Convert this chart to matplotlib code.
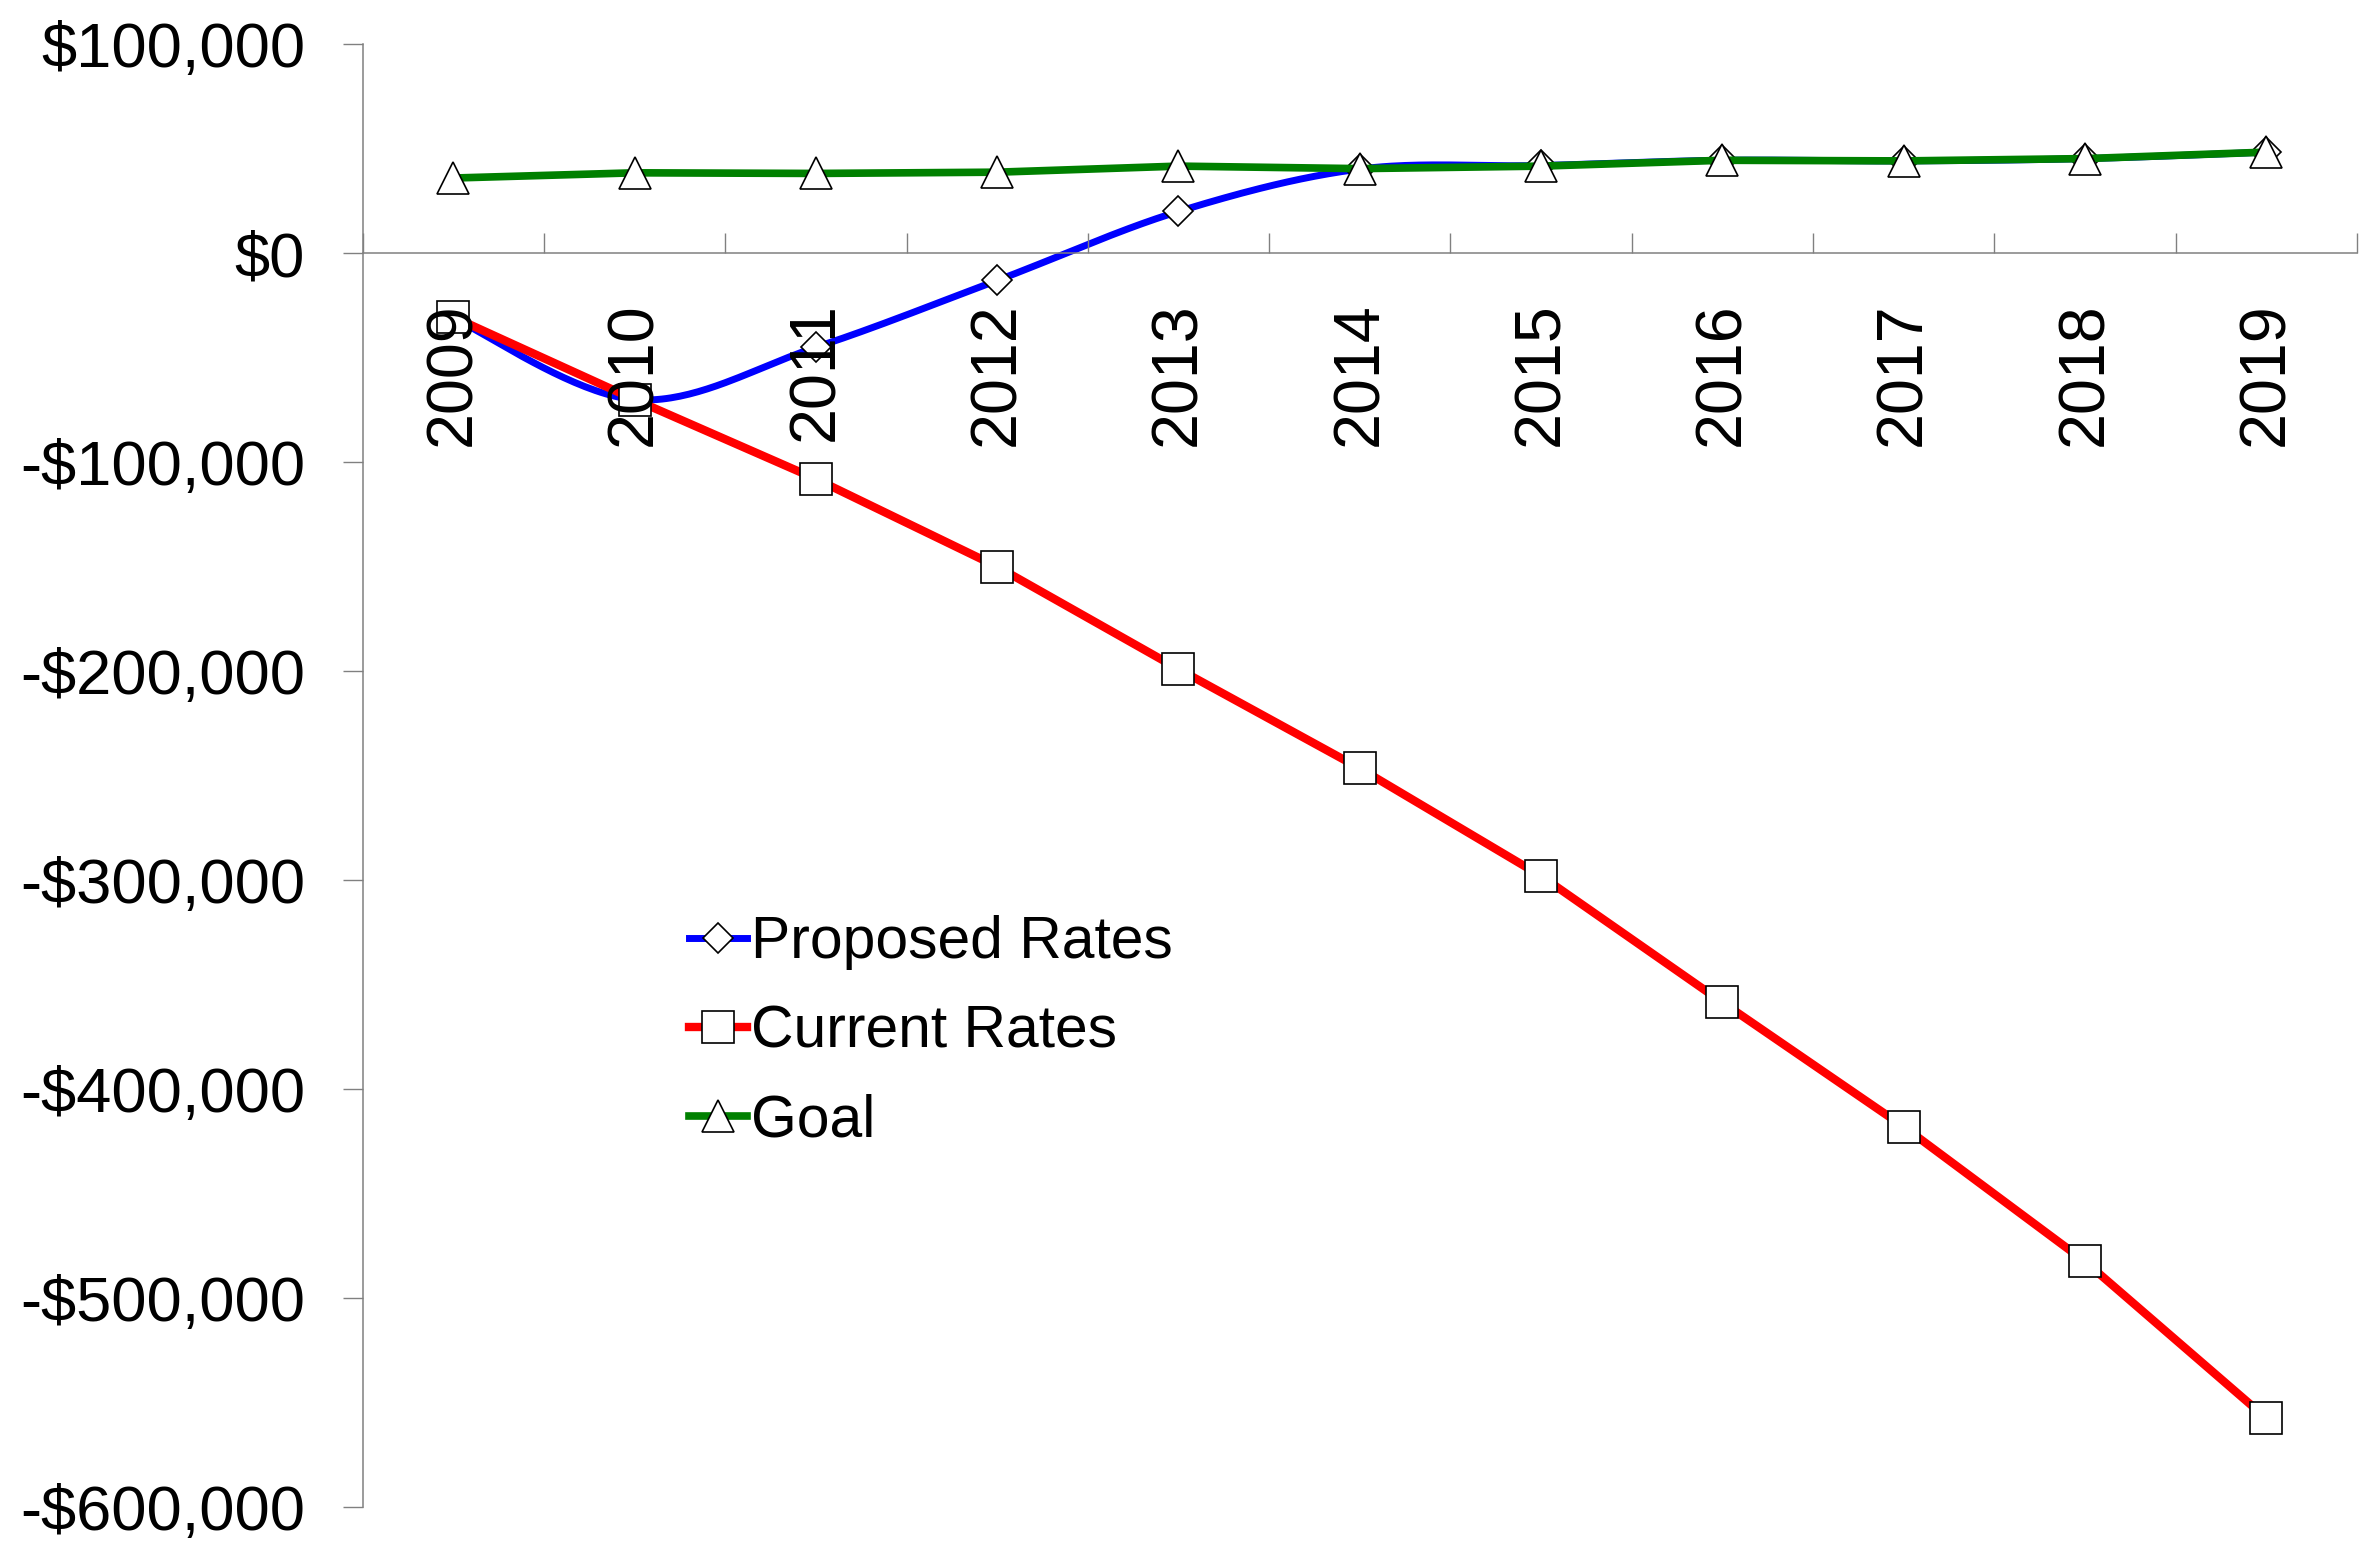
import numpy as np
import matplotlib
matplotlib.use("Agg")
import matplotlib.pyplot as plt
from matplotlib.lines import Line2D
from matplotlib.ticker import FuncFormatter, FixedLocator

plt.rcParams['font.family'] = ['Liberation Sans', 'DejaVu Sans']

years = ['2009', '2010', '2011', '2012', '2013', '2014',
         '2015', '2016', '2017', '2018', '2019']
proposed_rates = [-31000, -70000, -45000, -13000, 20000, 40300,
                  42000, 44500, 44200, 45300, 48400]
current_rates = [-30500, -70000, -108000, -150000, -199000, -246500,
                 -298000, -358500, -418000, -482500, -557500]
goal = [36000, 38500, 38200, 38800, 41700, 40500,
        41700, 44500, 44200, 45300, 48400]
series_labels = ['Proposed Rates', 'Current Rates', 'Goal']
y_ticks = [-600000, -500000, -400000, -300000, -200000, -100000, 0, 100000]


def smooth_curve(xs, ys, steps=40):
    """Cubic Bezier smoothing through every point (Catmull-Rom tangents)."""
    pts = np.column_stack([xs, ys]).astype(float)
    n = len(pts)
    out = []
    for i in range(n - 1):
        p0 = pts[i - 1] if i > 0 else pts[i]
        p1 = pts[i]
        p2 = pts[i + 1]
        p3 = pts[i + 2] if i + 2 < n else pts[i + 1]
        c1 = p1 + (p2 - p0) / 6.0
        c2 = p2 - (p3 - p1) / 6.0
        t = np.linspace(0, 1, steps, endpoint=(i == n - 2))[:, None]
        seg = ((1 - t) ** 3) * p1 + 3 * ((1 - t) ** 2) * t * c1 \
            + 3 * (1 - t) * (t ** 2) * c2 + (t ** 3) * p2
        out.append(seg)
    out = np.vstack(out)
    return out[:, 0], out[:, 1]


W, H = 2359, 1549
fig = plt.figure(figsize=(W / 100, H / 100), dpi=100)
left, right, top, bottom = 362.6, 2357.0, 44.3, 1507.0
ax = fig.add_axes([left / W, 1 - bottom / H, (right - left) / W, (bottom - top) / H])

x = np.arange(len(years))
blue, red, green = '#0000FF', '#FF0000', '#008000'
lw_blue, lw_red, lw_green = 5.0, 6.0, 5.5
mk = dict(markerfacecolor='white', markeredgecolor='black', markeredgewidth=1.2)
FS = 45.5
FS_LEGEND = 42.3

# Proposed rates: smoothed line with diamond markers
sx, sy = smooth_curve(x, proposed_rates)
ax.plot(sx, sy, color=blue, lw=lw_blue, solid_capstyle='butt', zorder=2)
ax.plot(x, proposed_rates, ls='none', marker='D', markersize=15, zorder=2.1, **mk)

# Current rates: straight line with square markers
ax.plot(x, current_rates, color=red, lw=lw_red, zorder=2.2)
ax.plot(x, current_rates, ls='none', marker='s', markersize=23, zorder=2.3, **mk)

# Goal: straight line with triangle markers
ax.plot(x, goal, color=green, lw=lw_green, zorder=2.4)
ax.plot(x, goal, ls='none', marker='^', markersize=23, zorder=2.5, **mk)

ax.set_xlim(-0.5, len(years) - 0.5)
ax.set_ylim(-600000, 100000)

axis_gray = '#808080'
for side in ('top', 'right'):
    ax.spines[side].set_visible(False)
ax.spines['bottom'].set_position(('data', 0))
for side in ('left', 'bottom'):
    ax.spines[side].set_color(axis_gray)
    ax.spines[side].set_linewidth(1.1)

# Y axis
ax.yaxis.set_major_locator(FixedLocator(y_ticks))


def money(v, pos):
    v = int(round(v))
    return f"-${abs(v):,}" if v < 0 else f"${v:,}"


ax.yaxis.set_major_formatter(FuncFormatter(money))
ax.tick_params(axis='y', which='major', direction='out', length=14.4, width=1.0,
               color=axis_gray, pad=27, labelsize=FS)

# X axis: labels at category centres, tick marks at category boundaries
ax.set_xticks(x)
ax.set_xticklabels(years, rotation=90)
ax.tick_params(axis='x', which='major', length=0, pad=35.5, labelsize=46.5)
ax.xaxis.set_minor_locator(FixedLocator(np.arange(-0.5, len(years), 1.0)))
ax.tick_params(axis='x', which='minor', direction='in', length=14.4, width=1.0,
               color=axis_gray)
ax.xaxis.set_zorder(5)

handles = [
    Line2D([], [], color=blue, lw=lw_blue, marker='D', markersize=15, **mk),
    Line2D([], [], color=red, lw=lw_red, marker='s', markersize=23, **mk),
    Line2D([], [], color=green, lw=lw_green, marker='^', markersize=23, **mk),
]
fig.legend(handles, series_labels, loc='center left',
           bbox_to_anchor=(689 / W, 1 - 1032 / H), frameon=False,
           fontsize=FS_LEGEND, handlelength=0.98, handletextpad=0.07,
           labelspacing=0.58, borderpad=0, borderaxespad=0, numpoints=1)

fig.savefig('out.png', dpi=100, facecolor='white')
